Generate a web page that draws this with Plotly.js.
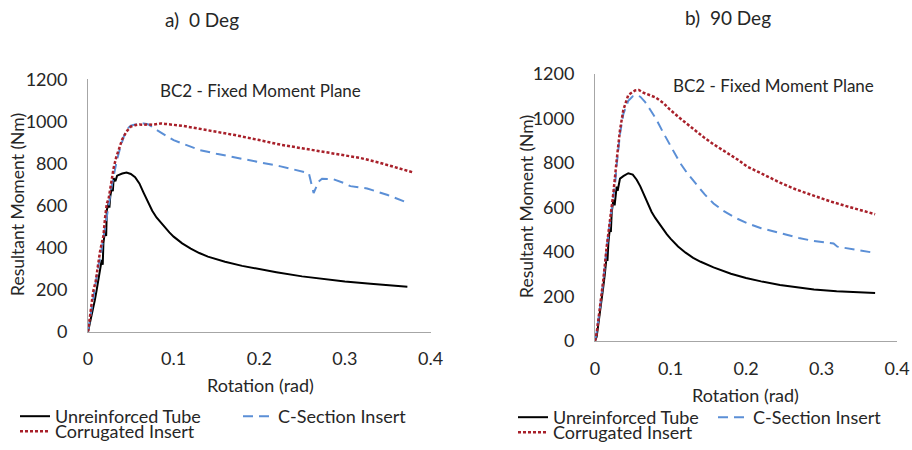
<!DOCTYPE html>
<html><head><meta charset="utf-8">
<script src="https://cdn.plot.ly/plotly-3.0.1.min.js"></script>
<style>html,body{margin:0;padding:0;background:#fff}#chart{width:912px;height:450px}</style>
</head><body><div id="chart"></div>
<script>
// ---- labels ----
const seriesNames = ["Unreinforced Tube", "C-Section Insert", "Corrugated Insert"];
const panelTitles = ["a)  0 Deg", "b)  90 Deg"];
const chartTitle = "BC2 - Fixed Moment Plane";
const xTitle = "Rotation (rad)";
const yTitle = "Resultant Moment (Nm)";
const xTickVals = [0, 0.1, 0.2, 0.3, 0.4];
const xTickText = ["0", "0.1", "0.2", "0.3", "0.4"];
const yTickVals = [0, 200, 400, 600, 800, 1000, 1200];
const yTickText = ["0", "200", "400", "600", "800", "1000", "1200"];

// ---- panel a) 0 Deg ----
const aUnrefX = [0, 0.002, 0.004, 0.006, 0.008, 0.010, 0.012, 0.014, 0.016, 0.0172, 0.018, 0.020, 0.0212, 0.022, 0.024, 0.025, 0.026, 0.028, 0.029, 0.030, 0.032, 0.034, 0.036, 0.040, 0.045, 0.050, 0.055, 0.060, 0.065, 0.070, 0.075, 0.080, 0.085, 0.090, 0.095, 0.100, 0.110, 0.120, 0.130, 0.140, 0.160, 0.180, 0.200, 0.220, 0.250, 0.280, 0.300, 0.330, 0.350, 0.373];
const aUnrefY = [0, 35, 72, 110, 150, 195, 245, 295, 341, 318, 421, 484, 455, 579, 610, 590, 643, 690, 668, 730, 715, 742, 746, 752, 757, 750, 735, 705, 660, 615, 575, 543, 518, 495, 472, 452, 420, 395, 374, 357, 333, 313, 297, 283, 263, 248, 239, 228, 221, 214];

const aCsecX = [0, 0.003, 0.006, 0.009, 0.012, 0.015, 0.018, 0.020, 0.022, 0.025, 0.028, 0.031, 0.034, 0.038, 0.042, 0.046, 0.050, 0.055, 0.060, 0.065, 0.070, 0.075, 0.080, 0.090, 0.100, 0.110, 0.130, 0.150, 0.180, 0.200, 0.225, 0.255, 0.258, 0.2635, 0.2694, 0.2733, 0.287, 0.300, 0.3064, 0.326, 0.350, 0.375];
const aCsecY = [0, 80, 170, 240, 310, 370, 450, 500, 540, 640, 700, 760, 820, 880, 930, 965, 980, 985, 988, 990, 987, 972, 960, 935, 911, 895, 864, 846, 823, 808, 786, 757, 752, 659, 714, 727, 724, 705, 692, 681, 650, 610];

const aCorrX = [0, 0.003, 0.006, 0.009, 0.012, 0.014, 0.016, 0.018, 0.020, 0.022, 0.024, 0.026, 0.028, 0.030, 0.033, 0.036, 0.040, 0.045, 0.050, 0.055, 0.060, 0.065, 0.070, 0.075, 0.080, 0.085, 0.090, 0.100, 0.110, 0.130, 0.150, 0.170, 0.200, 0.225, 0.250, 0.270, 0.300, 0.318, 0.340, 0.360, 0.380];
const aCorrY = [0, 90, 190, 240, 330, 380, 420, 455, 545, 610, 630, 680, 730, 780, 830, 870, 915, 952, 975, 982, 985, 984, 986, 984, 988, 990, 988, 983, 979, 965, 951, 936, 911, 889, 872, 858, 838, 826, 804, 780, 757];

// ---- panel b) 90 Deg ----
const bUnrefX = [0, 0.0022, 0.0044, 0.0066, 0.009, 0.011, 0.013, 0.0155, 0.0165, 0.0177, 0.0199, 0.021, 0.0221, 0.0243, 0.026, 0.0287, 0.030, 0.0331, 0.038, 0.0441, 0.050, 0.0552, 0.060, 0.065, 0.070, 0.075, 0.080, 0.085, 0.090, 0.095, 0.100, 0.110, 0.120, 0.130, 0.140, 0.157, 0.180, 0.200, 0.220, 0.245, 0.270, 0.290, 0.320, 0.345, 0.371];
const bUnrefY = [0, 19, 75, 124, 185, 244, 300, 382, 360, 440, 514, 490, 577, 634, 610, 694, 675, 730, 742, 754, 748, 725, 695, 655, 615, 580, 552, 526, 502, 480, 460, 425, 397, 374, 356, 331, 302, 283, 268, 252, 240, 231, 224, 220, 216];

const bCsecX = [0, 0.0022, 0.0066, 0.011, 0.0155, 0.0199, 0.0243, 0.027, 0.0287, 0.0331, 0.0375, 0.0441, 0.050, 0.0552, 0.060, 0.0662, 0.074, 0.0817, 0.0906, 0.097, 0.105, 0.1127, 0.122, 0.135, 0.145, 0.157, 0.170, 0.185, 0.201, 0.220, 0.245, 0.270, 0.290, 0.305, 0.316, 0.321, 0.340, 0.369];
const bCsecY = [0, 40, 150, 270, 420, 540, 640, 720, 790, 930, 1020, 1080, 1100, 1106, 1098, 1075, 1035, 993, 935, 896, 845, 800, 755, 700, 660, 618, 585, 555, 530, 507, 484, 463, 449, 441, 438, 424, 412, 397];

const bCorrX = [0, 0.0022, 0.0066, 0.011, 0.0155, 0.0199, 0.0243, 0.0287, 0.0331, 0.0375, 0.0441, 0.053, 0.058, 0.064, 0.0728, 0.080, 0.0905, 0.0993, 0.1127, 0.130, 0.145, 0.157, 0.170, 0.180, 0.190, 0.201, 0.223, 0.245, 0.267, 0.290, 0.312, 0.334, 0.352, 0.371];
const bCorrY = [0, 35, 154, 274, 424, 544, 664, 813, 948, 1038, 1106, 1126, 1128, 1116, 1106, 1095, 1070, 1040, 1001, 952, 913, 884, 856, 834, 813, 785, 748, 712, 680, 652, 627, 605, 587, 570];

// ---- styles ----
const FONT = "Lato, 'Open Sans', sans-serif";
const TXT = "#262626";
const styleUnref = {color: "#000000", width: 2, dash: "solid"};
const styleCsec = {color: "#5B8FD6", width: 2, dash: "10px,6px"};
const styleCorr = {color: "#A8202A", width: 2.5, dash: "3px,2px"};

function tr(x, y, name, line, xa, ya, legend) {
  return {type: "scatter", mode: "lines", x: x, y: y, name: name, line: line,
          xaxis: xa, yaxis: ya, legend: legend, hoverinfo: "skip"};
}

const data = [
  tr(aUnrefX, aUnrefY, seriesNames[0], styleUnref, "x", "y", "legend"),
  tr(aCsecX, aCsecY, seriesNames[1], styleCsec, "x", "y", "legend2"),
  tr(aCorrX, aCorrY, seriesNames[2], styleCorr, "x", "y", "legend3"),
  tr(bUnrefX, bUnrefY, seriesNames[0], styleUnref, "x2", "y2", "legend4"),
  tr(bCsecX, bCsecY, seriesNames[1], styleCsec, "x2", "y2", "legend5"),
  tr(bCorrX, bCorrY, seriesNames[2], styleCorr, "x2", "y2", "legend6")
];

const W = 912, H = 450;
const px = v => v / W;
const py = v => 1 - v / H;

function xax(d0, d1, anchor) {
  return {domain: [px(d0), px(d1)], anchor: anchor, range: [0, 0.4], tickvals: xTickVals, ticktext: xTickText,
          showline: true, linecolor: "#a6a6a6", linewidth: 1, ticks: "", showgrid: false, zeroline: false,
          automargin: false, ticklabelstandoff: 11, tickfont: {family: FONT, size: 18, color: TXT}, fixedrange: true};
}
function yax(top, bottom, anchor) {
  return {domain: [py(bottom), py(top)], anchor: anchor, range: [0, 1200], tickvals: yTickVals, ticktext: yTickText,
          showline: true, linecolor: "#a6a6a6", linewidth: 1, ticks: "", showgrid: false, zeroline: false,
          automargin: false, ticklabelstandoff: 16, tickfont: {family: FONT, size: 18, color: TXT}, fixedrange: true};
}
function leg(x, y) {
  return {orientation: "h", x: px(x), y: py(y), xanchor: "left", yanchor: "top",
          font: {family: FONT, size: 18, color: TXT}, bgcolor: "rgba(0,0,0,0)",
          itemclick: false, itemdoubleclick: false};
}
function ann(text, x, y, size, rot) {
  return {text: text, x: px(x), y: py(y), xref: "paper", yref: "paper", showarrow: false,
          xanchor: "center", yanchor: "middle", textangle: rot || 0,
          font: {family: FONT, size: size, color: TXT}};
}

const layout = {
  width: W, height: H, margin: {l: 0, r: 0, t: 0, b: 0, autoexpand: false},
  paper_bgcolor: "#ffffff", plot_bgcolor: "#ffffff", showlegend: true,
  xaxis: xax(88, 430.5, "y"),
  yaxis: yax(79.3, 331.7, "x"),
  xaxis2: xax(595, 897, "y2"),
  yaxis2: yax(74, 341, "x2"),
  legend: leg(15, 398),
  legend2: leg(238, 398),
  legend3: leg(15, 413),
  legend4: leg(513, 399),
  legend5: leg(713, 399),
  legend6: leg(513, 414),
  annotations: [
    ann(panelTitles[0], 202, 19, 19),
    ann(panelTitles[1], 728, 17, 19),
    ann(chartTitle, 260, 91, 17),
    ann(chartTitle, 773, 85, 17),
    ann(xTitle, 260, 385, 18),
    ann(xTitle, 745, 395, 18),
    ann(yTitle, 18, 205, 17.5, -90),
    ann(yTitle, 527, 207, 17.5, -90)
  ]
};

Plotly.newPlot("chart", data, layout, {staticPlot: true, displayModeBar: false});
</script>
</body></html>
